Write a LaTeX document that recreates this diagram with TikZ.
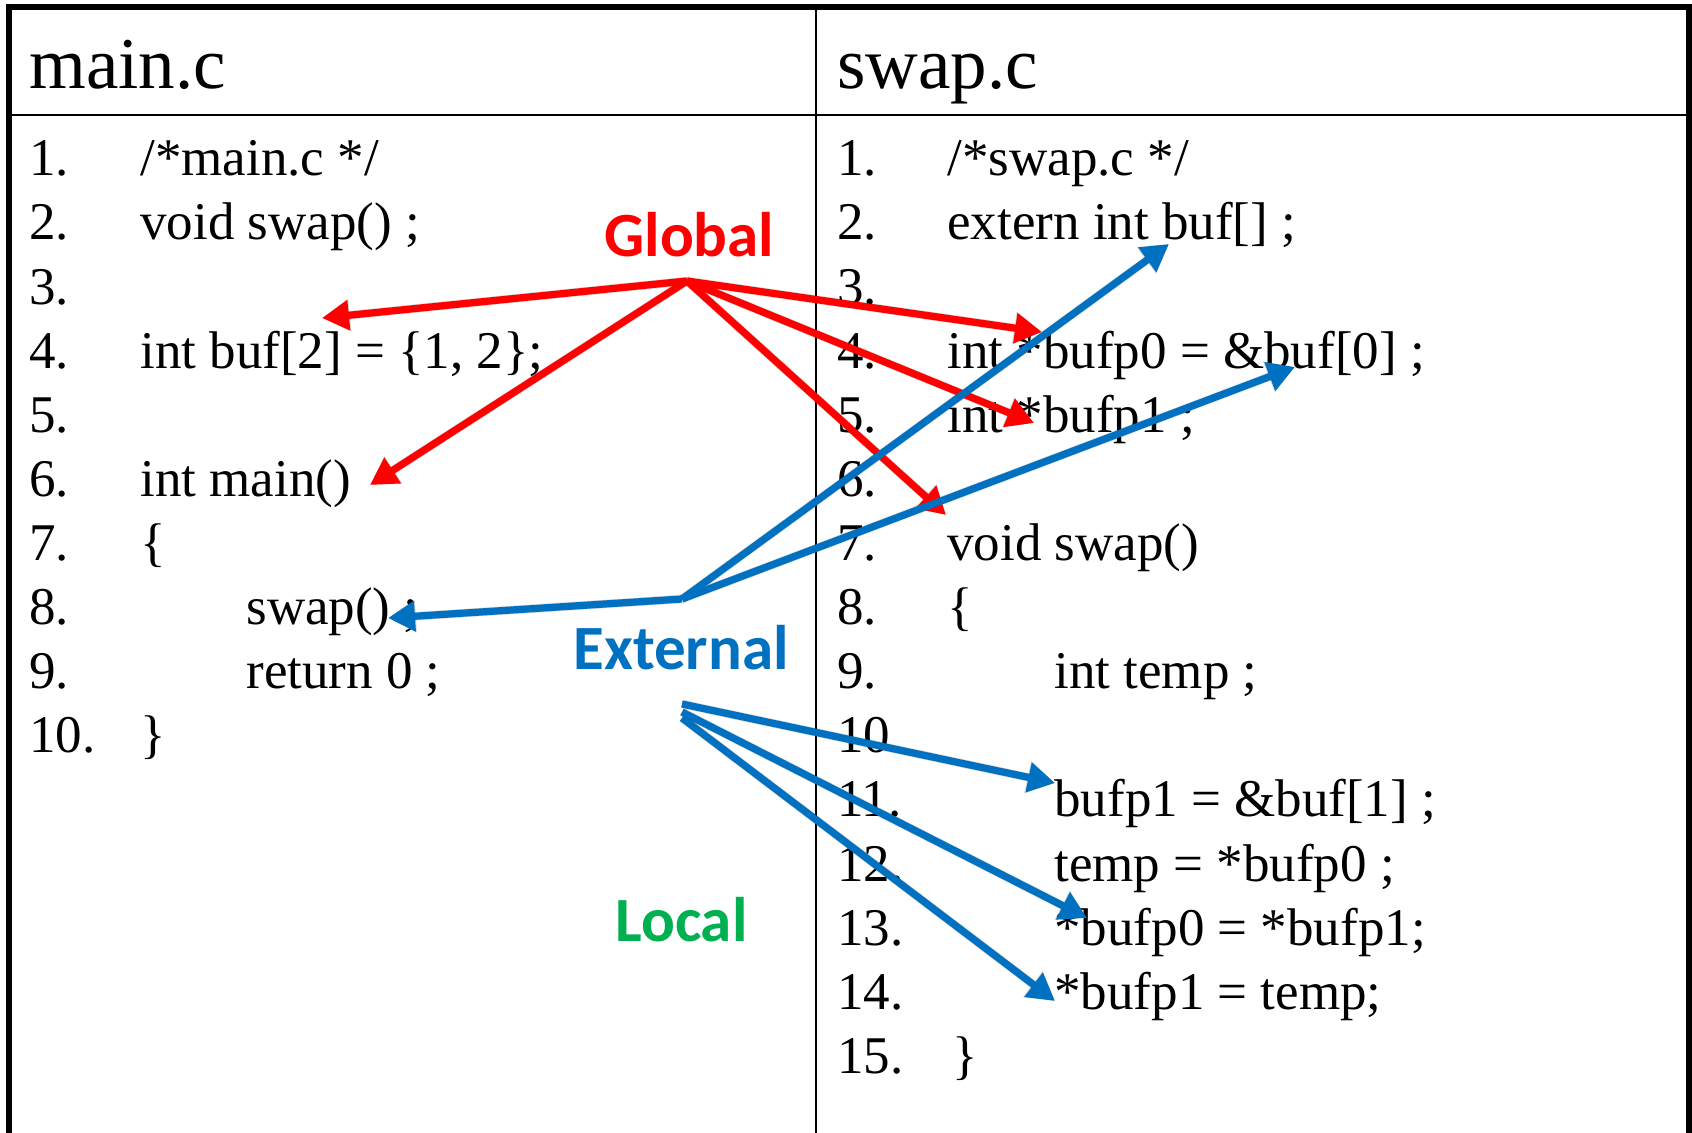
\documentclass[tikz,border=0pt]{standalone}
\usepackage{fontspec}
\setmainfont{Liberation Serif}
\newfontfamily\tagfont{Carlito}
\usetikzlibrary{arrows.meta}
\definecolor{globalred}{RGB}{255,0,0}
\definecolor{extblue}{RGB}{0,112,192}
\definecolor{localgreen}{RGB}{0,176,80}

\begin{document}
\begin{tikzpicture}[x=0.5pt,y=-0.5pt,
  code/.style={anchor=base west,inner sep=0pt,font=\fontsize{26.5}{30}\selectfont},
  head/.style={anchor=base west,inner sep=0pt,font=\fontsize{36.5}{40}\selectfont},
  tag/.style={anchor=base west,inner sep=0pt,font=\tagfont\bfseries\fontsize{31.5}{34}\selectfont},
  link/.style={line width=3.6pt,-{Triangle[length=13.5pt,width=14.5pt]}},
  globallink/.style={link,draw=globalred},
  extlink/.style={link,draw=extblue},
  linkshadow/.style={line width=4.2pt,draw=black,draw opacity=0.15,
    -{Triangle[length=14pt,width=15.5pt]},shift={(2.5,4)}},
  frame/.style={line width=3pt,line cap=rect},
  rule/.style={line width=1.2pt}]

\useasboundingbox (0,0) rectangle (1692,1133);
\fill[white] (0,0) rectangle (1692,1133);

% table frame and rules
\draw[frame] (9,1140) -- (9,7) -- (1689,7) -- (1689,1140);
\draw[rule] (9,115) -- (1689,115);
\draw[rule] (816,7) -- (816,1140);

% headers
\node[head] (hmain) at (29,88.5) {main.c};
\node[head] (hswap) at (837,88.5) {swap.c};

% line numbers
\foreach \k in {1,...,10}
  \node[code] (ln\k) at (29,{175.9+(\k-1)*64.1}) {\k.};
\foreach \k in {1,...,15}
  \node[code] (rn\k) at (837,{175.9+(\k-1)*64.1}) {\k.};

% main.c listing
\node[code] (m1) at (140,175.9) {/*main.c */};
\node[code] (m2) at (140,240.0) {void swap() ;};
\node[code] (m4) at (140,368.2) {int buf[2] = \{1, 2\};};
\node[code] (m6) at (140,496.4) {int main()};
\node[code] (m7) at (140,560.5) {\{};
\node[code] (m8) at (246,624.6) {swap() ;};
\node[code] (m9) at (246,688.7) {return 0 ;};
\node[code] (m10) at (140,752.8) {\}};

% swap.c listing
\node[code] (s1) at (947,175.9) {/*swap.c */};
\node[code] (s2) at (947,240.0) {extern int buf[] ;};
\node[code] (s4) at (947,368.2) {int *bufp0 = \&buf[0] ;};
\node[code] (s5) at (947,432.3) {int *bufp1 ;};
\node[code] (s7) at (947,560.5) {void swap()};
\node[code] (s8) at (947,624.6) {\{};
\node[code] (s9) at (1054,688.7) {int temp ;};
\node[code] (s11) at (1054,816.9) {bufp1 = \&buf[1] ;};
\node[code] (s12) at (1054,881.0) {temp = *bufp0 ;};
\node[code] (s13) at (1054,945.1) {*bufp0 = *bufp1;};
\node[code] (s14) at (1054,1009.2) {*bufp1 = temp;};
\node[code] (s15) at (952,1073.3) {\}};

% scope labels
\node[tag,text=globalred] (global) at (604,257) {Global};
\node[tag,text=extblue] (external) at (573,669) {External};
\node[tag,text=localgreen] (local) at (615,941) {Local};

% hubs and targets
\coordinate (ghub) at (687,281);
\coordinate (xhub) at (682,599);
\coordinate (xhubA) at (682,704);
\coordinate (xhubB) at (682,712);
\coordinate (xhubC) at (682,718);

\coordinate (tbuf) at (322,318);
\coordinate (tmain) at (370,485);
\coordinate (tbufp0) at (1042,332);
\coordinate (tbufp1) at (1034,423);
\coordinate (tswap) at (946,515);

\coordinate (tcall) at (388,618);
\coordinate (textern) at (1169,244);
\coordinate (tbufref) at (1295,367);
\coordinate (tset) at (1055,783);
\coordinate (tderef) at (1087,918);
\coordinate (tstore) at (1055,1001);

% soft drop shadows under the arrows
\foreach \a/\b in {ghub/tbuf,ghub/tmain,ghub/tbufp0,ghub/tbufp1,ghub/tswap,
                   xhub/tcall,xhub/textern,xhub/tbufref,
                   xhubA/tset,xhubB/tderef,xhubC/tstore}
  \draw[linkshadow] (\a) -- (\b);

% global symbols
\draw[globallink] (ghub) -- (tbuf);
\draw[globallink] (ghub) -- (tmain);
\draw[globallink] (ghub) -- (tbufp0);
\draw[globallink] (ghub) -- (tbufp1);
\draw[globallink] (ghub) -- (tswap);

% external references
\draw[extlink] (xhub) -- (tcall);
\draw[extlink] (xhub) -- (textern);
\draw[extlink] (xhub) -- (tbufref);
\draw[extlink] (xhubA) -- (tset);
\draw[extlink] (xhubB) -- (tderef);
\draw[extlink] (xhubC) -- (tstore);
\end{tikzpicture}
\end{document}
